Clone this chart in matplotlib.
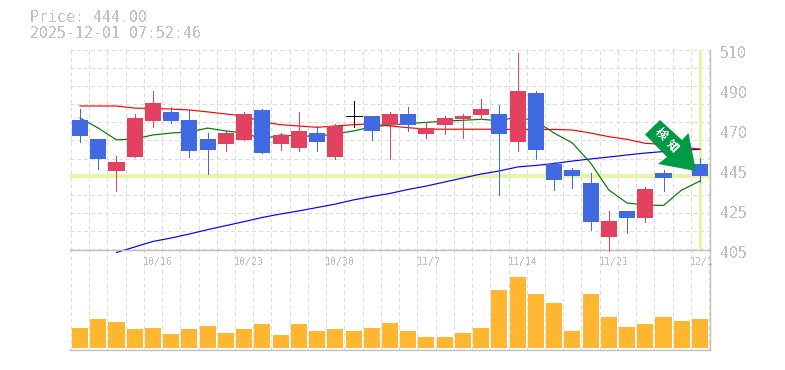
import matplotlib
matplotlib.use('Agg')
import matplotlib.pyplot as plt
from matplotlib.patches import Polygon

plt.rcParams['text.antialiased'] = False

# price data, one entry per trading day
opens = [473.3, 463.3, 446.5, 453.8, 472.7, 477.5, 473.3, 463.3, 460.7, 462.8, 478.5, 460.7,
         458.6, 466.4, 453.8, 475.2, 475.4, 470.6, 476.4, 465.9, 470.6, 473.8, 475.9, 476.4,
         461.7, 487.4, 450.2, 447.0, 440.2, 411.8, 425.5, 421.8, 445.4, 458.6, 450.2]
highs = [479.0, 463.3, 454.4, 476.4, 488.5, 480.1, 478.5, 466.4, 468.0, 477.5, 479.0, 466.4,
         477.5, 470.1, 471.2, 483.2, 475.4, 477.5, 480.1, 472.2, 475.4, 476.4, 484.3, 481.1,
         508.4, 488.5, 451.2, 448.0, 445.4, 425.5, 425.5, 438.1, 447.0, 460.1, 453.3]
lows = [461.7, 447.5, 436.0, 453.8, 469.6, 471.7, 453.8, 444.9, 457.0, 462.8, 455.9, 457.5,
        457.0, 457.0, 452.8, 469.6, 462.8, 452.8, 467.5, 463.8, 465.9, 463.8, 473.8, 433.9,
        457.0, 452.8, 436.5, 437.6, 415.5, 404.5, 413.9, 419.7, 436.0, 450.7, 440.7]
closes = [464.8, 452.8, 451.2, 474.3, 482.2, 472.7, 457.0, 457.5, 466.4, 476.4, 455.9, 465.4,
          467.5, 461.7, 470.1, 475.2, 467.5, 476.4, 470.6, 469.0, 474.3, 475.4, 479.0, 465.9,
          488.5, 457.5, 441.8, 443.9, 419.7, 420.2, 421.8, 437.0, 442.8, 452.3, 443.9]

# moving averages, None where the line has not started yet
ma_red = [480.6, 480.6, 480.6, 479.5, 479.3, 479.0, 478.5, 477.5, 476.4, 475.4, 472.2, 470.8,
          470.1, 469.4, 470.1, 470.8, 471.2, 470.1, 469.2, 468.5, 468.4, 468.4, 468.4, 468.4,
          468.2, 468.3, 468.3, 468.0, 466.4, 464.5, 463.1, 461.0, 460.5, 459.0, 458.0]
ma_green = [474.3, 469.0, 462.8, 463.3, 465.4, 466.4, 467.0, 469.0, 467.5, 466.4, 463.3, 465.4,
            464.8, 464.8, 465.9, 467.5, 469.6, 470.6, 471.4, 472.0, 472.7, 473.1, 473.6, 472.9,
            474.8, 472.7, 466.4, 461.2, 450.7, 436.5, 429.7, 428.6, 428.4, 436.5, 441.2]
ma_blue = [None, None, 403.7, 406.6, 409.5, 411.3, 413.4, 415.7, 417.8, 419.9, 422.1, 423.9,
           425.5, 427.3, 429.1, 431.3, 433.1, 434.7, 436.8, 438.6, 440.7, 442.8, 444.9, 446.5,
           448.6, 449.4, 450.4, 451.7, 452.8, 453.8, 454.9, 455.9, 456.7, 457.5, 457.8]

volumes = [20, 29, 26, 19, 20, 14, 19, 22, 15, 19, 24, 13, 24, 17, 19, 17, 20, 25, 17, 11, 11,
           15, 20, 58, 71, 54, 45, 17, 54, 31, 21, 24, 31, 27, 29]

last_price = 444.0
price_ticks = [510, 489, 468, 447, 426, 405]
price_labels = ['510', '490', '470', '445', '425', '405']
date_ticks = [4, 9, 14, 19, 24, 29, 34]
date_labels = ['10/16', '10/23', '10/30', '11/7', '11/14', '11/21', '12/1']

W, H = 785, 370
GRAY = '#c0c0c0'
GRID = '#dcdcdc'
BLUE = '#4169e1'
RED = '#e2425f'
BAND = '#e4f5a8'
MONO = 'DejaVu Sans Mono'
PX = 0.72  # one pixel wide line at dpi 100


def box(left, top, right, bottom):
    return [left / W, 1 - bottom / H, (right - left) / W, (bottom - top) / H]


fig = plt.figure(figsize=(W / 100, H / 100), dpi=100)
vol = fig.add_axes(box(70, 250, 710, 350))
ax = fig.add_axes(box(70, 50, 710, 250))
ax.patch.set_visible(False)
vol.patch.set_visible(False)

n = len(closes)
xlim = (-0.55, n - 1 + 0.55)
grid_x = [i - 0.5 for i in range(n)] + [n - 0.5]

for a in (ax, vol):
    a.set_xlim(xlim)
    a.set_xticks([])
    a.set_yticks([])
    for side in ('top', 'left'):
        a.spines[side].set_visible(False)
    for side in ('bottom', 'right'):
        a.spines[side].set_color(GRAY)
        a.spines[side].set_linewidth(1.0)
    for g in grid_x:
        a.axvline(g, color=GRID, lw=PX, ls=(0, (4, 4)), zorder=0, antialiased=False)

ax.set_ylim(405, 510)
for k in range(12):
    ax.axhline(510 - k * 9.5, color=GRID, lw=PX, ls=(0, (4, 4)), zorder=0, antialiased=False)

ax.axhline(last_price, color=BAND, lw=2.8, zorder=1)
ax.axvline(n - 1, color=BAND, lw=2.3, zorder=1)

days = list(range(n))
ax.plot(days, ma_blue, color='#0000ff', lw=0.85, zorder=2, clip_on=False)
ax.plot(days, ma_red, color='#ff0000', lw=0.85, zorder=2)
ax.plot(days, ma_green, color='#007a00', lw=0.85, zorder=2)

for i in days:
    o, h, l, c = opens[i], highs[i], lows[i], closes[i]
    if c == o:
        col = 'black'
    elif c < o:
        col = BLUE
    else:
        col = RED
    ax.plot([i, i], [l, h], color=col, lw=PX, zorder=3, solid_capstyle='butt', clip_on=False,
            antialiased=False)
    if c == o:
        ax.plot([i - 0.44, i + 0.44], [c, c], color=col, lw=PX, zorder=3, solid_capstyle='butt',
                antialiased=False)
    else:
        ax.bar(i, abs(c - o), bottom=min(c, o), width=0.88, color=col, zorder=3)

vol.set_ylim(-2, 98)
vol.bar(days, volumes, width=0.88, color='#ffb732', zorder=2)

# labels
for p, s in zip(price_ticks, price_labels):
    ax.annotate(s, (1, p), xycoords=('axes fraction', 'data'), xytext=(10, -3),
                textcoords='offset pixels', ha='left', va='center',
                fontsize=10.8, family=MONO, color=GRAY, annotation_clip=False)
for d, s in zip(date_ticks, date_labels):
    ax.annotate(s, (d - 0.5, 0), xycoords=('data', 'axes fraction'), xytext=(-1, -12),
                textcoords='offset pixels', ha='left', va='center',
                fontsize=7.1, family=MONO, color=GRAY, annotation_clip=False)

fig.text(30 / W, 1 - 18 / H, 'Price: 444.00', fontsize=10.7, family=MONO, color=GRAY,
         ha='left', va='center')
fig.text(30 / W, 1 - 33 / H, '2025-12-01 07:52:46', fontsize=10.7, family=MONO, color=GRAY,
         ha='left', va='center')

# signal arrow sitting on top of the candles
arrow_px = [(660, 120), (645, 134.5), (667, 157), (658, 164), (696, 171), (688.5, 133), (682, 140)]
arrow = Polygon([(x / W, 1 - y / H) for x, y in arrow_px], closed=True, transform=fig.transFigure,
                facecolor='#009944', edgecolor='none', zorder=10)
fig.add_artist(arrow)
fig.text(661 / W, 1 - 134 / H, '検', fontsize=8.5, color='white', rotation=-45, weight='bold',
         family=['Noto Sans CJK JP', 'DejaVu Sans'], ha='center', va='center', zorder=11)
fig.text(672 / W, 1 - 146 / H, '知', fontsize=8.5, color='white', rotation=-45, weight='bold',
         family=['Noto Sans CJK JP', 'DejaVu Sans'], ha='center', va='center', zorder=11)

fig.savefig('out.png', dpi=100)
